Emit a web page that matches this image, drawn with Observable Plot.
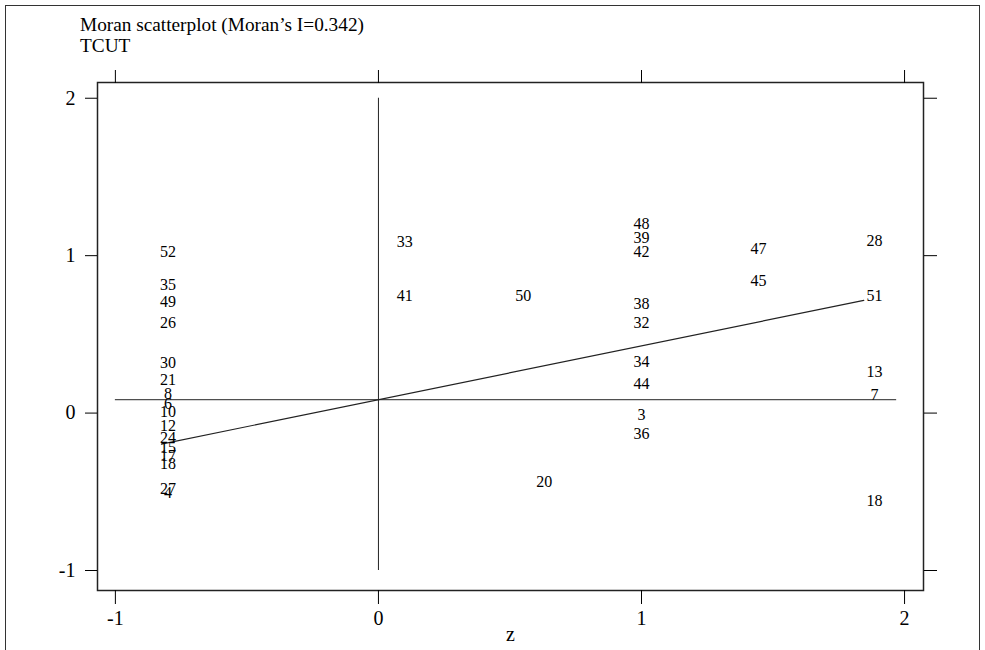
<!DOCTYPE html>
<html>
<head>
<meta charset="utf-8">
<script src="https://cdn.jsdelivr.net/npm/d3@7"></script>
<script src="https://cdn.jsdelivr.net/npm/@observablehq/plot@0.6"></script>
<style>
  html, body { margin: 0; padding: 0; background: #fff; }
  #wrap { position: relative; width: 985px; height: 650px; overflow: hidden; background: #fff; font-family: "Liberation Serif", "DejaVu Serif", serif; }
  #border { position: absolute; left: 5px; top: 5px; width: 975px; height: 660px; border: 1.5px solid #333; box-sizing: border-box; }
  #chart { position: absolute; left: 0; top: 0; }
  .ttl { position: absolute; left: 80px; font-size: 19.3px; color: #000; white-space: nowrap; }
</style>
</head>
<body>
<div id="wrap">
  <div id="border"></div>
  <div id="chart"></div>
  <div class="ttl" style="top:14px">Moran scatterplot (Moran’s I=0.342)</div>
  <div class="ttl" style="top:35px">TCUT</div>
</div>
<script>
// Region ids, standardized values z, and spatial lag Wz
const ids = ["52","35","49","26","30","21","8","6","10","12","24","15","17","18","27","4",
             "33","41","50","20",
             "48","39","42","38","32","34","44","3","36",
             "47","45",
             "28","51","13","7","18"];
const zVals = [-0.80,-0.80,-0.80,-0.80,-0.80,-0.80,-0.80,-0.80,-0.80,-0.80,-0.80,-0.80,-0.80,-0.80,-0.80,-0.80,
               0.10,0.10,0.55,0.63,
               1.00,1.00,1.00,1.00,1.00,1.00,1.00,1.00,1.00,
               1.445,1.445,
               1.886,1.886,1.886,1.886,1.886];
const wzVals = [1.025,0.815,0.707,0.573,0.318,0.21,0.12,0.057,0.006,-0.083,-0.16,-0.223,-0.274,-0.325,-0.484,-0.51,
                1.09,0.745,0.745,-0.44,
                1.20,1.115,1.025,0.694,0.573,0.325,0.185,-0.013,-0.134,
                1.04,0.84,
                1.095,0.745,0.26,0.115,-0.555];

// Reference lines
const meanWz = 0.085;            // horizontal line level
const hLineX = [-1.0, 1.97];     // extent of horizontal line
const vLineY = [-1, 2];          // extent of vertical line at z = 0
const fitX = [-0.825, 1.845];    // regression line endpoints (slope = Moran's I)
const fitY = [-0.197, 0.716];

const xTicks = [-1, 0, 1, 2];
const yTicks = [-1, 0, 1, 2];

const pts = ids.map((id, i) => ({id, z: zVals[i], wz: wzVals[i]}));
const fit = fitX.map((x, i) => ({x, y: fitY[i]}));

const chart = Plot.plot({
  width: 985,
  height: 650,
  marginLeft: 97,
  marginRight: 62,
  marginTop: 82,
  marginBottom: 60,
  style: { fontFamily: "Liberation Serif, serif", fontSize: "20px", background: "transparent", color: "#000" },
  x: { domain: [-1.068, 2.072] },
  y: { domain: [-1.127, 2.10] },
  marks: [
    Plot.frame({ stroke: "#222", strokeWidth: 1.5 }),
    Plot.axisX({ anchor: "bottom", ticks: xTicks, tickSize: 14, tickPadding: 6, tickFormat: d => String(d),
                 fontSize: 20, label: "z", labelAnchor: "center", labelArrow: "none", labelOffset: 50 }),
    Plot.axisX({ anchor: "top", ticks: xTicks, tickSize: 13, tickFormat: () => "", label: null }),
    Plot.axisY({ anchor: "left", ticks: yTicks, tickSize: 12, tickPadding: 10, tickFormat: d => String(d),
                 fontSize: 20, label: null }),
    Plot.axisY({ anchor: "right", ticks: yTicks, tickSize: 13, tickFormat: () => "", label: null }),
    Plot.ruleX([0], { y1: vLineY[0], y2: vLineY[1], stroke: "#222", strokeWidth: 1 }),
    Plot.ruleY([meanWz], { x1: hLineX[0], x2: hLineX[1], stroke: "#222", strokeWidth: 1 }),
    Plot.line(fit, { x: "x", y: "y", stroke: "#222", strokeWidth: 1.2 }),
    Plot.text(pts, { x: "z", y: "wz", text: "id", fontSize: 16, fill: "#000" })
  ]
});
document.getElementById("chart").appendChild(chart);
</script>
</body>
</html>
